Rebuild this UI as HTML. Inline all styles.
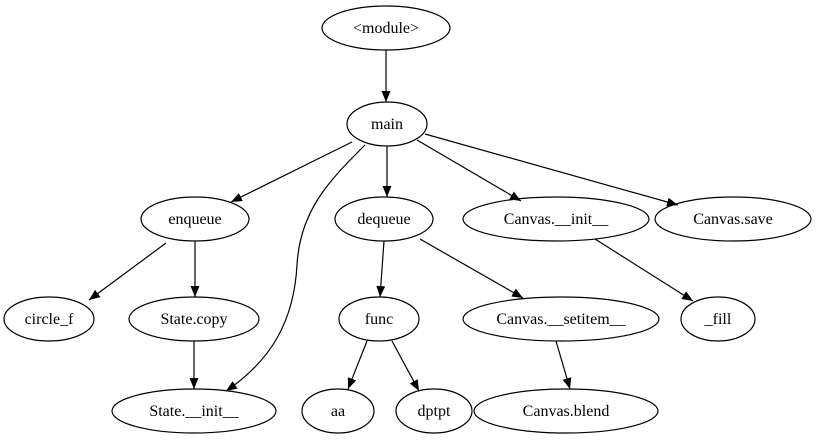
<!DOCTYPE html>
<html><head><style>body{margin:0;background:#fff}svg{display:block}svg text{font-family:"Liberation Serif","Times New Roman",Times,"DejaVu Serif",serif !important;font-size:16px}</style></head><body>
<svg width="825" height="443" viewBox="0 0 825 443" xmlns="http://www.w3.org/2000/svg">
<defs><marker id="a" markerWidth="11" markerHeight="9" refX="11" refY="4.5" orient="auto" markerUnits="userSpaceOnUse"><path d="M0,0 L11,4.5 L0,9 z" fill="#000"/></marker></defs>
<g fill="none" stroke="#000" stroke-width="1.2">
<ellipse cx="386" cy="28" rx="64" ry="22"/>
<ellipse cx="387" cy="124" rx="40" ry="22"/>
<ellipse cx="195" cy="219" rx="54" ry="22"/>
<ellipse cx="384" cy="219" rx="49" ry="22"/>
<ellipse cx="556" cy="219" rx="93" ry="22"/>
<ellipse cx="733" cy="219" rx="78" ry="22"/>
<ellipse cx="49" cy="319" rx="45" ry="22"/>
<ellipse cx="194" cy="319" rx="65" ry="22"/>
<ellipse cx="379" cy="319" rx="40" ry="22"/>
<ellipse cx="561" cy="319" rx="98" ry="22"/>
<ellipse cx="718" cy="319" rx="37" ry="22"/>
<ellipse cx="194" cy="411" rx="82" ry="22"/>
<ellipse cx="338" cy="411" rx="36" ry="22"/>
<ellipse cx="434" cy="411" rx="38" ry="22"/>
<ellipse cx="566" cy="411" rx="92" ry="22"/>
<g marker-end="url(#a)">
<line x1="386" y1="50" x2="386" y2="102"/>
<line x1="352" y1="142" x2="231" y2="202"/>
<line x1="387" y1="146" x2="387" y2="197"/>
<line x1="417" y1="140" x2="521" y2="201"/>
<line x1="425" y1="134" x2="678" y2="205"/>
<line x1="166" y1="243" x2="89" y2="300"/>
<line x1="195" y1="241" x2="195" y2="297"/>
<line x1="384" y1="241" x2="380" y2="297"/>
<line x1="420" y1="239" x2="523" y2="298"/>
<line x1="595" y1="239" x2="693" y2="301"/>
<line x1="194" y1="341" x2="194" y2="389"/>
<line x1="367" y1="341" x2="348" y2="389"/>
<line x1="392" y1="341" x2="419" y2="391"/>
<line x1="556" y1="341" x2="570" y2="389"/>
<path d="M365,145 C330,180 300,210 297,265 C294,320 272,360 226,391"/>
</g>
</g>
<g text-anchor="middle" fill="#000" font-family="Liberation Serif, serif">
<text x="386" y="33">&lt;module&gt;</text>
<text x="387" y="129">main</text>
<text x="195" y="224">enqueue</text>
<text x="384" y="224">dequeue</text>
<text x="556" y="224">Canvas.__init__</text>
<text x="733" y="224">Canvas.save</text>
<text x="49" y="324">circle_f</text>
<text x="194" y="324">State.copy</text>
<text x="379" y="324">func</text>
<text x="561" y="324">Canvas.__setitem__</text>
<text x="718" y="324">_fill</text>
<text x="194" y="416">State.__init__</text>
<text x="338" y="416">aa</text>
<text x="434" y="416">dptpt</text>
<text x="566" y="416">Canvas.blend</text>
</g>
</svg>
</body></html>
